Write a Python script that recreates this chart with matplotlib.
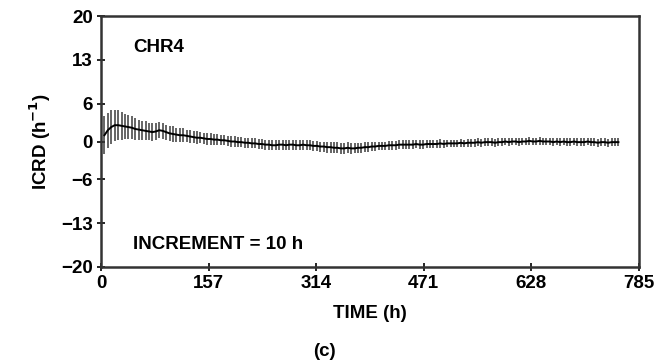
import numpy as np
import matplotlib
matplotlib.use("Agg")
import matplotlib.pyplot as plt

plt.rcParams['font.family'] = ['Liberation Sans', 'DejaVu Sans']
plt.rcParams['font.weight'] = 'bold'

# ------  data  ------

times = np.arange(5, 760, 5)   # h, one point every 5 h

icrd = [1.0, 1.8, 2.3, 2.6, 2.6, 2.5, 2.4, 2.3, 2.2, 2.0,
        1.9, 1.8, 1.7, 1.6, 1.5, 1.6, 1.8, 1.7, 1.5, 1.3,
        1.2, 1.1, 1.0, 1.0, 0.9, 0.8, 0.7, 0.6, 0.6, 0.5,
        0.4, 0.4, 0.3, 0.3, 0.2, 0.2, 0.1, 0.0, 0.0, -0.1,
        -0.1, -0.2, -0.2, -0.3, -0.3, -0.4, -0.4, -0.5, -0.5, -0.6,
        -0.6, -0.5, -0.5, -0.6, -0.5, -0.5, -0.6, -0.6, -0.5, -0.6,
        -0.6, -0.7, -0.7, -0.8, -0.8, -0.9, -0.9, -1.0, -1.0, -1.1,
        -1.1, -1.0, -1.1, -1.1, -1.0, -1.0, -0.9, -0.9, -0.8, -0.8,
        -0.7, -0.7, -0.7, -0.6, -0.6, -0.6, -0.5, -0.5, -0.5, -0.5,
        -0.5, -0.4, -0.5, -0.5, -0.4, -0.4, -0.4, -0.4, -0.3, -0.4,
        -0.3, -0.3, -0.3, -0.3, -0.2, -0.3, -0.2, -0.2, -0.2, -0.1,
        -0.2, -0.1, -0.1, -0.1, -0.2, -0.1, -0.1, 0.0, -0.1, 0.0,
        0.0, -0.1, 0.0, 0.0, 0.1, 0.0, 0.0, 0.1, 0.0, 0.0,
        0.0, -0.1, 0.0, -0.1, 0.0, -0.1, -0.1, 0.0, -0.1, -0.1,
        -0.1, 0.0, -0.1, -0.1, -0.2, -0.1, -0.1, -0.2, -0.1, -0.1,
        -0.1]

err = [3.0, 2.8, 2.7, 2.5, 2.4, 2.2, 2.0, 1.9, 1.8, 1.7,
       1.6, 1.5, 1.5, 1.4, 1.4, 1.3, 1.3, 1.3, 1.2, 1.2,
       1.2, 1.1, 1.1, 1.1, 1.0, 1.0, 1.0, 1.0, 0.9, 0.9,
       0.9, 0.9, 0.9, 0.9, 0.8, 0.8, 0.8, 0.8, 0.8, 0.8,
       0.8, 0.8, 0.8, 0.8, 0.8, 0.8, 0.8, 0.8, 0.8, 0.8,
       0.8, 0.8, 0.8, 0.8, 0.8, 0.8, 0.8, 0.8, 0.8, 0.8,
       0.8, 0.8, 0.8, 0.8, 0.8, 0.9, 0.9, 0.9, 0.9, 0.9,
       0.9, 0.9, 0.9, 0.8, 0.8, 0.8, 0.8, 0.8, 0.7, 0.7,
       0.7, 0.7, 0.7, 0.7, 0.7, 0.7, 0.7, 0.7, 0.7, 0.7,
       0.7, 0.7, 0.7, 0.7, 0.7, 0.7, 0.7, 0.7, 0.7, 0.7,
       0.6, 0.6, 0.6, 0.6, 0.6, 0.6, 0.6, 0.6, 0.6, 0.6,
       0.6, 0.6, 0.6, 0.6, 0.6, 0.6, 0.6, 0.6, 0.6, 0.6,
       0.6, 0.6, 0.6, 0.6, 0.6, 0.6, 0.6, 0.6, 0.6, 0.6,
       0.6, 0.6, 0.6, 0.6, 0.6, 0.6, 0.6, 0.6, 0.6, 0.6,
       0.6, 0.6, 0.6, 0.6, 0.6, 0.6, 0.6, 0.6, 0.6, 0.6,
       0.6]

xticks = [0, 157, 314, 471, 628, 785]
yticks = [-20, -13, -6, 0, 6, 13, 20]

# ------  plot  ------

fig = plt.figure(figsize=(6.63, 3.64), dpi=100)
ax = fig.add_axes([0.1523, 0.2665, 0.8115, 0.6895])

ax.errorbar(times, icrd, yerr=err, fmt='none', ecolor='#3a3a3a',
            elinewidth=1.1, capsize=0)
ax.plot(times, icrd, color='black', lw=1.4)

ax.set_xlim(0, 785)
ax.set_ylim(-20, 20)
ax.set_xticks(xticks)
ax.set_yticks(yticks)
ax.set_yticklabels([str(v).replace('-', '\u2212') for v in yticks])
ax.tick_params(direction='inout', length=6, width=1.2, labelsize=13.5,
               colors='black', pad=3)
for s in ax.spines.values():
    s.set_linewidth(1.8)
    s.set_color('#333333')

ax.text(0.06, 0.873, 'CHR4', transform=ax.transAxes, fontsize=13.5,
        fontweight='bold', va='center')
ax.text(0.06, 0.088, 'INCREMENT = 10 h', transform=ax.transAxes,
        fontsize=13.5, fontweight='bold', va='center')

ax.set_xlabel('TIME (h)', fontsize=13.5, fontweight='bold', labelpad=9)
ax.set_ylabel('ICRD (h$^{\\mathbf{-1}}$)', fontsize=13.5, fontweight='bold',
              labelpad=6)
fig.text(0.49, 0.033, '(c)', fontsize=13.5, fontweight='bold',
         ha='center', va='center')

plt.savefig('out.png', dpi=100)
